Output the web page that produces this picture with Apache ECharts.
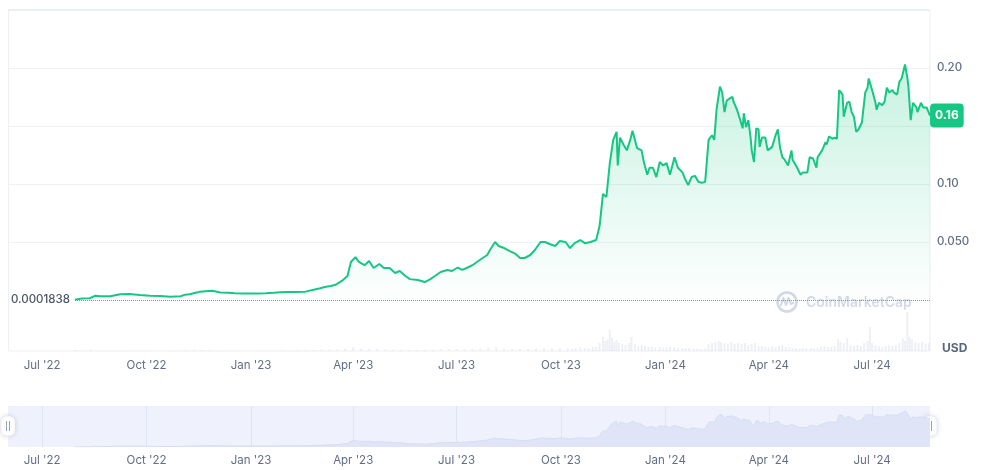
<!DOCTYPE html>
<html><head><meta charset="utf-8">
<script src="https://cdn.jsdelivr.net/npm/echarts@6/dist/echarts.min.js"></script>
<style>html,body{margin:0;padding:0;background:#fff}#c{width:995px;height:470px}</style>
</head><body><div id="c"></div>
<script>
const axisStart = '2022-06-01';
const axisEnd = '2024-08-21';
const monthNames = ['Jan','Feb','Mar','Apr','May','Jun','Jul','Aug','Sep','Oct','Nov','Dec'];
const tickMonths = ['01','04','07','10'];
const startPrice = 0.0001838;
const startPriceLabel = '0.0001838';
const currentPriceLabel = '0.16';
const hiddenYLabels = [0, 0.15, 0.25];

const priceDates = [
'2022-07-30','2022-08-05','2022-08-12','2022-08-17','2022-08-21','2022-08-30','2022-09-08','2022-09-16','2022-09-25','2022-10-04',
'2022-10-13','2022-10-22','2022-10-31','2022-11-04','2022-11-08','2022-11-15','2022-11-17','2022-11-22','2022-11-28','2022-12-05',
'2022-12-12','2022-12-18','2022-12-25','2022-12-31','2023-01-07','2023-01-14','2023-01-21','2023-01-27','2023-02-03','2023-02-09',
'2023-02-18','2023-02-26','2023-03-03','2023-03-07','2023-03-12','2023-03-16','2023-03-22','2023-03-27','2023-03-30','2023-04-03',
'2023-04-06','2023-04-11','2023-04-15','2023-04-19','2023-04-24','2023-04-28','2023-05-03','2023-05-08','2023-05-12','2023-05-17',
'2023-05-21','2023-05-28','2023-06-03','2023-06-08','2023-06-12','2023-06-17','2023-06-23','2023-06-27','2023-07-02','2023-07-06',
'2023-07-10','2023-07-15','2023-07-19','2023-07-24','2023-07-28','2023-07-31','2023-08-04','2023-08-07','2023-08-12','2023-08-17',
'2023-08-22','2023-08-26','2023-08-30','2023-09-04','2023-09-08','2023-09-13','2023-09-17','2023-09-21','2023-09-26','2023-09-30',
'2023-10-05','2023-10-09','2023-10-13','2023-10-18','2023-10-22','2023-10-27','2023-11-01','2023-11-04','2023-11-07','2023-11-10',
'2023-11-11','2023-11-13','2023-11-16','2023-11-19','2023-11-20','2023-11-22','2023-11-25','2023-11-28','2023-12-01','2023-12-03',
'2023-12-07','2023-12-11','2023-12-13','2023-12-16','2023-12-18','2023-12-21','2023-12-24','2023-12-27','2023-12-30','2024-01-02',
'2024-01-05','2024-01-09','2024-01-12','2024-01-16','2024-01-18','2024-01-21','2024-01-24','2024-01-27','2024-01-30','2024-02-02',
'2024-02-05','2024-02-08','2024-02-11','2024-02-13','2024-02-15','2024-02-18','2024-02-20','2024-02-22','2024-02-24','2024-02-27',
'2024-02-29','2024-03-01','2024-03-04','2024-03-06','2024-03-09','2024-03-10','2024-03-12','2024-03-14','2024-03-16','2024-03-17',
'2024-03-19','2024-03-21','2024-03-23','2024-03-24','2024-03-26','2024-03-29','2024-03-31','2024-04-04','2024-04-07','2024-04-09',
'2024-04-11','2024-04-13','2024-04-15','2024-04-18','2024-04-21','2024-04-22','2024-04-26','2024-04-29','2024-05-01','2024-05-05',
'2024-05-07','2024-05-10','2024-05-13','2024-05-14','2024-05-18','2024-05-21','2024-05-22','2024-05-24','2024-05-27','2024-05-29',
'2024-05-31','2024-06-02','2024-06-05','2024-06-06','2024-06-09','2024-06-11','2024-06-13','2024-06-15','2024-06-17','2024-06-19',
'2024-06-22','2024-06-25','2024-06-27','2024-06-28','2024-07-01','2024-07-04','2024-07-05','2024-07-07','2024-07-10','2024-07-12',
'2024-07-14','2024-07-16','2024-07-19','2024-07-20','2024-07-23','2024-07-25','2024-07-27','2024-07-30','2024-08-01','2024-08-02',
'2024-08-04','2024-08-06','2024-08-09','2024-08-10','2024-08-13','2024-08-15','2024-08-18','2024-08-21'
];
const priceValues = [
0.00018,0.0012,0.0015,0.0037,0.0032,0.0032,0.0049,0.0052,0.0043,0.0037,
0.0034,0.0028,0.0032,0.0046,0.0049,0.0066,0.0072,0.0076,0.0079,0.0065,
0.0062,0.0058,0.0056,0.0057,0.0055,0.0058,0.0062,0.0066,0.0068,0.0069,
0.0072,0.0090,0.0102,0.0112,0.0120,0.0129,0.0164,0.0207,0.0328,0.0370,
0.0328,0.0300,0.0336,0.0276,0.0310,0.0276,0.0276,0.0233,0.0250,0.0207,
0.0180,0.0172,0.0155,0.0180,0.0207,0.0241,0.0259,0.0250,0.0280,0.0259,
0.0276,0.0300,0.0328,0.0362,0.0388,0.0440,0.0500,0.0466,0.0448,0.0422,
0.0397,0.0362,0.0362,0.0388,0.0431,0.0500,0.0500,0.0483,0.0466,0.0509,
0.0500,0.0448,0.0490,0.0517,0.0490,0.0500,0.0517,0.0638,0.0914,0.0888,
0.0905,0.118,0.138,0.145,0.116,0.140,0.134,0.129,0.138,0.146,
0.131,0.129,0.119,0.108,0.114,0.114,0.106,0.119,0.116,0.118,
0.108,0.123,0.114,0.110,0.105,0.099,0.106,0.107,0.102,0.101,
0.102,0.138,0.142,0.138,0.164,0.184,0.179,0.162,0.172,0.174,
0.175,0.171,0.164,0.158,0.148,0.161,0.149,0.155,0.140,0.129,
0.119,0.148,0.147,0.132,0.140,0.140,0.129,0.132,0.142,0.147,
0.131,0.123,0.121,0.116,0.129,0.121,0.114,0.108,0.110,0.110,
0.123,0.122,0.114,0.123,0.129,0.136,0.134,0.141,0.139,0.140,
0.139,0.181,0.177,0.158,0.170,0.171,0.162,0.158,0.145,0.147,
0.153,0.179,0.183,0.191,0.181,0.170,0.164,0.170,0.168,0.171,
0.183,0.179,0.181,0.179,0.177,0.188,0.191,0.203,0.192,0.184,
0.155,0.170,0.166,0.162,0.170,0.166,0.166,0.159
];

const volumeDates = [
'2022-07-30','2022-08-06','2022-08-13','2022-08-20','2022-08-27','2022-09-03','2022-09-10','2022-09-17','2022-09-24','2022-10-01',
'2022-10-08','2022-10-15','2022-10-22','2022-10-29','2022-11-05','2022-11-12','2022-11-19','2022-11-26','2022-12-03','2022-12-10',
'2022-12-17','2022-12-24','2022-12-31','2023-01-07','2023-01-14','2023-01-21','2023-01-28','2023-02-04','2023-02-11','2023-02-18',
'2023-02-25','2023-03-04','2023-03-11','2023-03-18','2023-03-25','2023-04-01','2023-04-08','2023-04-15','2023-04-22','2023-04-29',
'2023-05-06','2023-05-13','2023-05-20','2023-05-27','2023-06-03','2023-06-10','2023-06-17','2023-06-24','2023-07-01','2023-07-08',
'2023-07-15','2023-07-22','2023-07-29','2023-08-05','2023-08-12','2023-08-19','2023-08-26','2023-09-02','2023-09-09','2023-09-16',
'2023-09-23','2023-09-30','2023-10-07','2023-10-11','2023-10-14','2023-10-18','2023-10-22','2023-10-25','2023-10-29','2023-11-01',
'2023-11-04','2023-11-07','2023-11-09','2023-11-11','2023-11-13','2023-11-15','2023-11-17','2023-11-19','2023-11-21','2023-11-24',
'2023-11-27','2023-11-30','2023-12-02','2023-12-05','2023-12-08','2023-12-11','2023-12-14','2023-12-17','2023-12-20','2023-12-23',
'2023-12-27','2023-12-30','2024-01-02','2024-01-05','2024-01-09','2024-01-12','2024-01-16','2024-01-19','2024-01-22','2024-01-26',
'2024-01-29','2024-02-01','2024-02-05','2024-02-08','2024-02-11','2024-02-14','2024-02-17','2024-02-19','2024-02-22','2024-02-25',
'2024-02-28','2024-03-02','2024-03-05','2024-03-08','2024-03-11','2024-03-14','2024-03-17','2024-03-20','2024-03-23','2024-03-26',
'2024-03-29','2024-04-01','2024-04-04','2024-04-07','2024-04-10','2024-04-13','2024-04-16','2024-04-19','2024-04-22','2024-04-25',
'2024-04-28','2024-05-01','2024-05-04','2024-05-08','2024-05-11','2024-05-14','2024-05-17','2024-05-20','2024-05-23','2024-05-26',
'2024-05-29','2024-06-01','2024-06-03','2024-06-06','2024-06-09','2024-06-12','2024-06-15','2024-06-18','2024-06-21','2024-06-24',
'2024-06-27','2024-06-29','2024-07-01','2024-07-04','2024-07-07','2024-07-10','2024-07-13','2024-07-16','2024-07-19','2024-07-22',
'2024-07-25','2024-07-28','2024-07-30','2024-08-01','2024-08-03','2024-08-05','2024-08-08','2024-08-11','2024-08-14','2024-08-17',
'2024-08-20'
];
const volumeValues = [
1,0.5,1.5,0.8,0.6,0.7,0.9,0.6,0.5,0.5,
0.4,0.4,0.5,0.5,0.8,1.2,1.0,0.8,0.6,0.5,
0.5,0.4,0.4,0.5,0.5,0.6,0.6,0.5,0.6,0.7,
1.0,1.2,1.3,1.6,2.5,4,2.5,2,1.8,1.5,
1.2,1.2,1.0,1.0,1.2,1.5,1.8,2,2,1.8,
2.2,2.5,3.5,4,2.5,2,2,2,2.5,3,
2.5,3,3,2.5,3,3.5,3,3,4,4,
8,14,10,12,21,13,9,11,8,7,
6,8,14,7,5,6,5,4,4,3,
4,3,3,4,4,3,3,2.5,3,2.5,
2.5,2,2.5,7,8,9,10,9,8,7,
9,7,8,7,8,6,7,8,5,5,
4,4,5,4,5,6,4,3,3,3,
2.5,3,2.5,3,2.5,3,4,5,4,4,
5,12,9,8,13,6,5,6,5,8,
10,24,8,6,5,4,5,6,5,6,
8,13,10,39,14,12,9,8,9,7,
8
];

const categories = [];
for (let t = Date.parse(axisStart + 'T00:00:00Z'); t <= Date.parse(axisEnd + 'T00:00:00Z'); t += 86400000) {
  categories.push(new Date(t).toISOString().slice(0, 10));
}
const priceData = priceDates.map((d, i) => [d, priceValues[i]]);
const volumeData = volumeDates.map((d, i) => [d, volumeValues[i]]);

const isTick = (idx, val) => val.slice(8) === '01' && tickMonths.indexOf(val.slice(5, 7)) >= 0;
const fmtDate = (val) => monthNames[+val.slice(5, 7) - 1] + " '" + val.slice(2, 4);
const FONT = 'Inter, "Noto Sans", sans-serif';
const labelColor = '#616e85';
const L = 8, R = 65;

const chart = echarts.init(document.getElementById('c'), null, { renderer: 'canvas' });
chart.setOption({
  animation: false,
  textStyle: { fontFamily: FONT },
  grid: [
    { left: L, right: R, top: 10, height: 290 },
    { left: L, right: R, top: 300, height: 51 },
    { left: L, right: R, top: 406, height: 41, show: true, backgroundColor: '#eff2fd', borderWidth: 0 }
  ],
  xAxis: [
    { gridIndex: 0, type: 'category', data: categories, boundaryGap: false, show: false },
    { gridIndex: 1, type: 'category', data: categories, boundaryGap: false,
      axisLine: { show: false }, axisTick: { show: false }, splitLine: { show: false },
      axisLabel: { interval: isTick, formatter: fmtDate, color: labelColor, fontSize: 11.5, margin: 9, fontFamily: FONT } },
    { gridIndex: 2, type: 'category', data: categories, boundaryGap: false,
      axisLine: { show: false }, axisTick: { show: false },
      splitLine: { show: true, interval: isTick, lineStyle: { color: '#dfe4f4', width: 1 } },
      axisLabel: { interval: isTick, formatter: fmtDate, color: labelColor, fontSize: 11.5, margin: 8, fontFamily: FONT } }
  ],
  yAxis: [
    { gridIndex: 0, type: 'value', position: 'right', min: 0, max: 0.25, splitNumber: 5,
      axisLine: { show: false }, axisTick: { show: false },
      splitLine: { show: true, lineStyle: { color: ['rgba(0,0,0,0)', '#eff2f5', '#eff2f5', '#eff2f5', '#eff2f5', '#eaedf1'] } },
      axisLabel: { color: labelColor, fontSize: 11.5, fontWeight: 500, margin: 7, fontFamily: FONT,
        formatter: (v) => hiddenYLabels.some(h => Math.abs(h - v) < 1e-9) ? '' : v.toPrecision(2) } },
    { gridIndex: 1, type: 'value', min: 0, max: 51, show: false },
    { gridIndex: 2, type: 'value', min: 0, max: 0.231, show: false }
  ],
  series: [
    { type: 'line', xAxisIndex: 0, yAxisIndex: 0, data: priceData, symbol: 'none', z: 5,
      lineStyle: { color: '#16c784', width: 2 },
      areaStyle: { color: new echarts.graphic.LinearGradient(0, 0, 0, 1, [
        { offset: 0, color: 'rgba(22,199,132,0.34)' }, { offset: 1, color: 'rgba(22,199,132,0.01)' }]) },
      markLine: { silent: true, symbol: 'none',
        lineStyle: { type: 'dotted', color: '#8a94a6', width: 1 },
        label: { show: true, position: 'start', distance: 5, formatter: startPriceLabel, color: '#4a5568', fontSize: 11.5, fontWeight: 500, fontFamily: FONT },
        data: [[{ coord: [priceDates[0], startPrice] }, { coord: [axisEnd, startPrice] }]] },
      markPoint: { silent: true, symbol: 'circle', symbolSize: 0.1,
        label: { show: true, position: 'right', distance: 0, formatter: currentPriceLabel, color: '#fff',
          backgroundColor: '#16c784', borderRadius: 4, padding: [6, 5, 6, 5], fontSize: 12, fontWeight: 700, fontFamily: FONT },
        data: [{ coord: [priceDates[priceDates.length - 1], priceValues[priceValues.length - 1]] }] } },
    { type: 'bar', xAxisIndex: 1, yAxisIndex: 1, data: volumeData, barWidth: 2,
      itemStyle: { color: 'rgba(205,212,228,0.35)' } },
    { type: 'line', xAxisIndex: 2, yAxisIndex: 2, data: priceData, symbol: 'none', silent: true,
      lineStyle: { color: '#d6ddf2', width: 1 }, areaStyle: { color: '#dfe5f7', opacity: 1 } }
  ],
  graphic: [
    { type: 'rect', silent: true, z: -1, shape: { x: 8.5, y: 9.5, width: 921.5, height: 341.5 },
      style: { fill: 'none', stroke: '#eceff3', lineWidth: 1 } },
    { type: 'group', silent: true, children: [
      { type: 'circle', shape: { cx: 787, cy: 302, r: 9.5 }, style: { fill: 'none', stroke: '#d3d9e5', lineWidth: 2.6 } },
      { type: 'polyline', shape: { points: [[781, 305], [783.5, 298], [786, 305], [788.5, 298], [791, 304], [793, 303]] },
        style: { fill: 'none', stroke: '#d3d9e5', lineWidth: 2.2, lineJoin: 'round', lineCap: 'round' } },
      { type: 'text', x: 806, y: 303, style: { text: 'CoinMarketCap', font: '600 14px Inter, sans-serif', fill: '#d3d9e5', verticalAlign: 'middle' } }
    ] },
    { type: 'text', silent: true, x: 942, y: 348, style: { text: 'USD', font: '700 12px Inter, sans-serif', fill: '#58667e', verticalAlign: 'middle' } },
    { type: 'group', silent: true, children: [
      { type: 'rect', shape: { x: 1, y: 416, width: 14, height: 20, r: 6 }, style: { fill: '#fff', stroke: '#e8ebf2', lineWidth: 0.5, shadowBlur: 5, shadowColor: 'rgba(88,102,126,0.25)' } },
      { type: 'line', shape: { x1: 6.5, y1: 421, x2: 6.5, y2: 431 }, style: { stroke: '#9aa3b5', lineWidth: 1 } },
      { type: 'line', shape: { x1: 9.5, y1: 421, x2: 9.5, y2: 431 }, style: { stroke: '#9aa3b5', lineWidth: 1 } },
      { type: 'rect', shape: { x: 923, y: 416, width: 14, height: 20, r: 6 }, style: { fill: '#fff', stroke: '#e8ebf2', lineWidth: 0.5, shadowBlur: 5, shadowColor: 'rgba(88,102,126,0.25)' } },
      { type: 'line', shape: { x1: 928.5, y1: 421, x2: 928.5, y2: 431 }, style: { stroke: '#9aa3b5', lineWidth: 1 } },
      { type: 'line', shape: { x1: 931.5, y1: 421, x2: 931.5, y2: 431 }, style: { stroke: '#9aa3b5', lineWidth: 1 } }
    ] }
  ]
});
</script></body></html>
